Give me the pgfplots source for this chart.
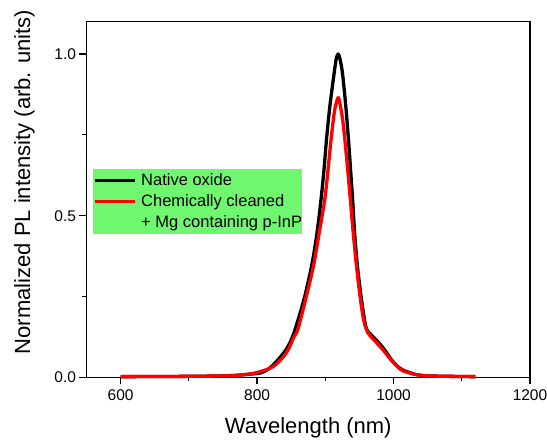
\documentclass[border=0pt]{standalone}
\usepackage{fontspec}
\setmainfont{Liberation Sans}
\usepackage{pgfplots}
\pgfplotsset{compat=1.18}
\definecolor{legendgreen}{RGB}{111,247,111}
\begin{document}
\begin{tikzpicture}
\begin{axis}[
  scale only axis,
  width=443.5pt, height=355.6pt,
  xmin=550, xmax=1200, ymin=0, ymax=1.1,
  xtick={600,800,1000,1200}, ytick={0,0.5,1},
  minor tick num=1,
  tick align=outside,
  xtick pos=bottom, ytick pos=left,
  major tick length=7pt, minor tick length=4pt,
  every tick/.style={black, line width=1.3pt},
  axis line style={line width=1.5pt},
  ticklabel style={font=\fontsize{15.5}{18}\selectfont},
  /pgf/number format/assume math mode=true,
  xticklabel style={/pgf/number format/1000 sep={}, yshift=-2pt},
  yticklabel style={/pgf/number format/.cd, fixed, fixed zerofill, precision=1},
  xlabel={Wavelength (nm)},
  ylabel={Normalized PL intensity (arb. units)},
  label style={font=\fontsize{22}{26}\selectfont},
  xlabel style={at={(rel axis cs:0.5,-0.1434)}, anchor=center},
  ylabel style={at={(rel axis cs:-0.1398,0.549)}, anchor=center},
  clip=false,
  legend cell align=left,
  legend image code/.code={\draw[#1] (0pt,0pt) -- (40pt,0pt); \path (45pt,0pt);},
  legend style={at={(rel axis cs:0.014,0.585)}, anchor=north west,
    draw=none, fill=legendgreen,
    font=\fontsize{16.5}{19}\selectfont,
    inner xsep=0pt, inner ysep=3.6pt, row sep=5.5pt,
    nodes={inner sep=0pt, text height=12pt, text depth=3.5pt}},
]
\addplot[black, line width=3.3pt, smooth, line join=round] coordinates {
  (600,0.002) (700,0.003) (760,0.005) (790,0.010) (806,0.014)
  (821,0.033) (840.6,0.080) (852.8,0.130) (868.5,0.239) (879.7,0.342)
  (886,0.420) (890.5,0.490) (894.5,0.565) (898,0.640) (901.7,0.734)
  (906.6,0.837) (912.9,0.940) (916,0.985) (918.8,1.000) (921.5,0.985)
  (925.2,0.940) (930.1,0.837) (934,0.734) (937.4,0.631) (940.5,0.535)
  (943,0.445) (947.2,0.342) (953.1,0.239) (959.4,0.157) (965,0.136)
  (975,0.115) (987.3,0.084) (997,0.054) (1006,0.034) (1014,0.022)
  (1034,0.008) (1055,0.004) (1120,0.002)
};
\addlegendentry{Native oxide}
\addplot[red, line width=3.3pt, smooth, line join=round] coordinates {
  (600,0.002) (700,0.003) (760,0.005) (794,0.012) (823.4,0.033)
  (843,0.076) (854,0.125) (860,0.150) (870.9,0.239) (882.4,0.342)
  (890.9,0.445) (898.5,0.540) (902.5,0.610) (906,0.685) (910,0.765)
  (914,0.830) (918.8,0.865) (922,0.840) (926.1,0.786) (931.1,0.682)
  (935.5,0.579) (937.5,0.530) (941,0.445) (945.8,0.342) (951.6,0.239)
  (957,0.170) (962.8,0.136) (967,0.125) (972.6,0.113) (984.8,0.084)
  (997,0.052) (1006,0.032) (1014,0.020) (1034,0.008) (1055,0.004)
  (1120,0.002)
};
\addlegendentry{Chemically cleaned}
\addlegendimage{legend image code/.code={\path (0pt,0pt) (45pt,0pt);}}
\addlegendentry{+ Mg containing p-InP\hspace{7.7pt}}
\end{axis}
\pgfresetboundingbox
\path[use as bounding box] (current axis.south west) ++(-86.5pt,-62.7pt) rectangle ++(547pt,440pt);
\end{tikzpicture}
\end{document}
